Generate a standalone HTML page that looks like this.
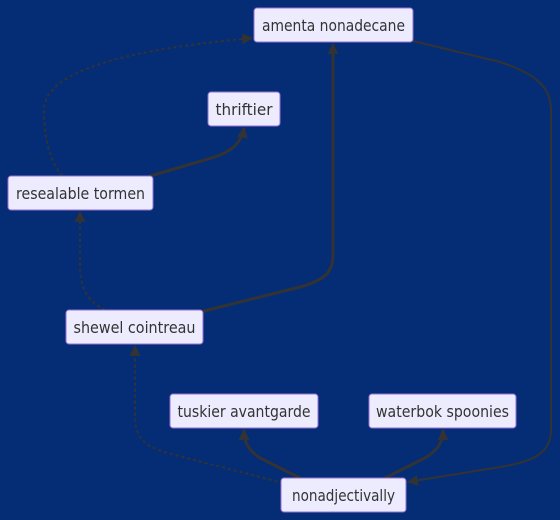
<!DOCTYPE html>
<html><head><meta charset="utf-8"><style>
html,body{margin:0;padding:0;background:#042d76;}
svg{display:block;}
text{font-family:"DejaVu Sans","Liberation Sans",sans-serif;font-size:16px;fill:#333;}
</style></head><body>
<svg width="560" height="520" viewBox="0 0 560 520" xmlns="http://www.w3.org/2000/svg">
<defs>
<marker id="a" viewBox="0 0 10 10" refX="9" refY="5" markerWidth="11" markerHeight="11" markerUnits="userSpaceOnUse" orient="auto"><path d="M0,0L10,5L0,10z" fill="#333"/></marker>
</defs>
<rect width="560" height="520" fill="#042d76"/>
<g fill="none" stroke="#333" stroke-width="2">
<path d="M62,176 C50,160 44,140 44,110 C44,60 180,45 252,38" stroke-dasharray="3,3" marker-end="url(#a)"/>
<path d="M150,176 L215,157 C235,150 242,140 244,128" stroke-width="3" marker-end="url(#a)"/>
<path d="M105,310 C85,300 80,285 80,265 L80,212" stroke-dasharray="3,3" marker-end="url(#a)"/>
<path d="M200,312 L300,287 C325,280 333,272 333,255 L333,44" stroke-width="3" marker-end="url(#a)"/>
<path d="M413,41 L500,62 C540,75 551,90 551,110 L551,430 C551,455 530,462 500,467 L408,482" marker-end="url(#a)"/>
<path d="M283,483 L175,455 C145,447 135,440 135,415 L135,346" stroke-dasharray="3,3" marker-end="url(#a)"/>
<path d="M300,478 L260,458 C248,450 244,442 244,430" stroke-width="3" marker-end="url(#a)"/>
<path d="M385,478 L425,458 C438,450 443,442 443,430" stroke-width="3" marker-end="url(#a)"/>
</g>
<g fill="#ececfe" stroke="#9370db" stroke-width="1">
<rect x="254" y="8" width="159" height="34" rx="3"/>
<rect x="208" y="92" width="72" height="34" rx="3"/>
<rect x="8" y="176" width="145" height="34" rx="3"/>
<rect x="66" y="310" width="137" height="34" rx="3"/>
<rect x="170" y="394" width="148" height="34" rx="3"/>
<rect x="369" y="394" width="147" height="34" rx="3"/>
<rect x="281" y="478" width="125" height="34" rx="3"/>
</g>
<g text-anchor="middle">
<text x="333.5" y="31" textLength="143" lengthAdjust="spacingAndGlyphs">amenta nonadecane</text>
<text x="244" y="115" textLength="57" lengthAdjust="spacingAndGlyphs">thriftier</text>
<text x="80.5" y="199" textLength="129" lengthAdjust="spacingAndGlyphs">resealable tormen</text>
<text x="134.5" y="333" textLength="122" lengthAdjust="spacingAndGlyphs">shewel cointreau</text>
<text x="244" y="417" textLength="133" lengthAdjust="spacingAndGlyphs">tuskier avantgarde</text>
<text x="442.5" y="417" textLength="133" lengthAdjust="spacingAndGlyphs">waterbok spoonies</text>
<text x="343.5" y="501" textLength="103" lengthAdjust="spacingAndGlyphs">nonadjectivally</text>
</g>
</svg>
</body></html>
